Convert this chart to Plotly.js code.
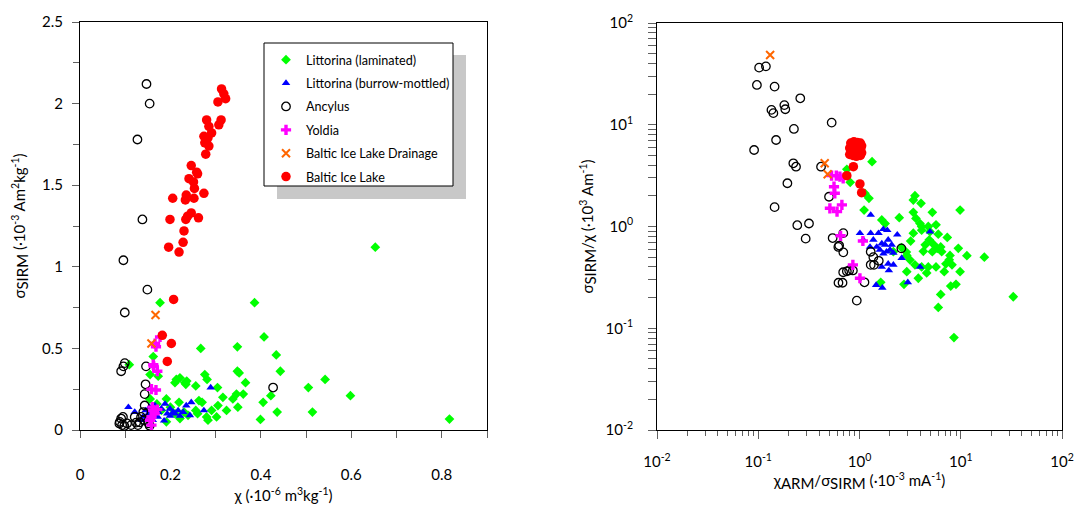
<!DOCTYPE html>
<html>
<head>
<meta charset="utf-8">
<script src="https://cdn.plot.ly/plotly-3.0.1.min.js"></script>
<style>html,body{margin:0;padding:0;background:#fff;}#chart{width:1077px;height:509px;}</style>
</head>
<body>
<div id="chart"></div>
<script>
// ---------- Left panel: chi vs sigma SIRM ----------
const lamChi  = [0.407,0.348,0.267,0.434,0.162,0.109,0.443,0.348,0.352,0.276,0.155,0.173,0.281,0.213,0.221,0.210,0.232,0.236,0.234,0.256,0.366,0.304,0.542,0.505,0.598,0.346,0.361,0.316,0.338,0.422,0.405,0.263,0.270,0.219,0.191,0.155,0.305,0.324,0.349,0.291,0.280,0.283,0.302,0.256,0.239,0.221,0.191,0.436,0.399,0.514,0.817,0.653,0.386,0.177,0.154,0.170,0.200,0.210,0.180,0.260,0.230];
const lamSirm = [0.57,0.51,0.50,0.46,0.45,0.40,0.36,0.36,0.35,0.34,0.34,0.33,0.31,0.31,0.32,0.29,0.29,0.30,0.28,0.27,0.29,0.26,0.31,0.26,0.21,0.22,0.22,0.20,0.19,0.21,0.17,0.18,0.17,0.17,0.19,0.19,0.15,0.12,0.14,0.12,0.08,0.06,0.08,0.12,0.09,0.07,0.05,0.11,0.065,0.11,0.067,1.12,0.78,0.78,0.19,0.16,0.14,0.10,0.12,0.10,0.11];

const burChi  = [0.107,0.121,0.136,0.151,0.166,0.173,0.188,0.199,0.206,0.186,0.199,0.217,0.221,0.235,0.246,0.243,0.274,0.289,0.139,0.161,0.172,0.154,0.193,0.210,0.180,0.145,0.160,0.228];
const burSirm = [0.14,0.11,0.06,0.10,0.15,0.11,0.16,0.13,0.11,0.057,0.086,0.12,0.086,0.15,0.17,0.09,0.12,0.26,0.08,0.06,0.08,0.14,0.10,0.10,0.13,0.12,0.12,0.11];

const ancChi  = [0.147,0.154,0.127,0.138,0.096,0.149,0.099,0.099,0.096,0.091,0.146,0.145,0.143,0.143,0.140,0.427,0.095,0.091,0.088,0.087,0.093,0.104,0.121,0.124,0.132,0.135,0.152,0.154,0.128,0.113,0.098,0.142];
const ancSirm = [2.12,2.00,1.78,1.29,1.04,0.86,0.72,0.41,0.39,0.36,0.39,0.28,0.22,0.15,0.11,0.26,0.08,0.07,0.05,0.04,0.03,0.04,0.08,0.045,0.047,0.08,0.04,0.026,0.03,0.03,0.025,0.06];

const yolChi  = [0.177,0.166,0.168,0.162,0.171,0.158,0.168,0.162,0.171,0.158,0.155,0.158,0.163,0.165,0.160];
const yolSirm = [0.57,0.53,0.51,0.40,0.36,0.25,0.245,0.12,0.125,0.08,0.06,0.03,0.39,0.10,0.14];

const drnChi  = [0.167,0.158];
const drnSirm = [0.705,0.53];

const bilChi  = [0.313,0.318,0.322,0.305,0.280,0.312,0.307,0.285,0.291,0.274,0.283,0.276,0.285,0.278,0.246,0.258,0.260,0.241,0.251,0.253,0.274,0.235,0.205,0.233,0.252,0.246,0.238,0.262,0.199,0.234,0.230,0.228,0.196,0.219,0.207,0.182,0.202,0.193];
const bilSirm = [2.09,2.06,2.03,2.01,1.90,1.90,1.87,1.86,1.82,1.80,1.79,1.76,1.74,1.69,1.62,1.58,1.57,1.54,1.52,1.48,1.45,1.44,1.42,1.41,1.42,1.33,1.31,1.30,1.29,1.29,1.22,1.15,1.12,1.09,0.80,0.58,0.53,0.42];

// ---------- Right panel: chiARM/sigmaSIRM vs sigmaSIRM/chi ----------
const lamArm   = [1.33,0.75,0.81,1.13,1.24,1.11,3.53,3.40,4.05,5.24,9.85,3.40,1.66,1.79,2.47,3.61,3.96,4.11,4.78,5.70,3.40,4.11,4.97,6.00,7.36,4.89,4.46,5.36,5.86,6.34,9.46,4.27,5.24,6.48,7.83,11.5,17.1,2.16,2.93,3.15,3.53,4.11,4.78,5.70,7.14,7.70,8.20,2.93,3.81,4.61,6.87,9.85,2.75,1.62,7.96,8.97,6.34,6.00,8.57,33.0,2.90,2.60,3.20];
const lamRatio = [4.33,3.65,2.72,2.12,1.89,1.45,2.01,1.82,1.69,1.38,1.45,1.38,1.16,1.07,1.22,1.20,1.07,1.00,1.00,1.04,0.86,0.92,0.89,0.84,0.78,0.74,0.66,0.67,0.61,0.63,0.61,0.57,0.565,0.565,0.52,0.516,0.50,0.565,0.52,0.47,0.42,0.40,0.40,0.40,0.43,0.47,0.42,0.36,0.31,0.35,0.36,0.36,0.27,0.283,0.26,0.27,0.215,0.16,0.081,0.204,0.56,0.62,0.72];

const burArm   = [1.29,1.01,1.09,1.29,1.54,1.72,1.88,2.36,1.37,1.92,1.27,1.48,1.66,2.08,1.59,1.85,2.00,2.16,4.97,2.61,1.92,2.16,1.66,1.95,3.96,1.46,1.68,3.00,1.79,1.72];
const burRatio = [1.30,0.86,0.74,0.86,0.86,0.94,0.92,0.83,0.74,0.74,0.63,0.63,0.68,0.66,0.59,0.565,0.59,0.55,0.89,0.49,0.43,0.42,0.40,0.37,0.40,0.266,0.25,0.283,0.66,0.54];

const ancArm   = [0.102,0.119,0.097,0.145,0.26,0.181,0.185,0.135,0.141,0.531,0.225,0.15,0.091,0.222,0.236,0.417,0.194,0.50,0.145,0.243,0.317,0.294,0.543,0.692,0.618,0.63,0.692,1.29,1.37,1.55,1.29,1.39,2.59,0.69,0.75,0.79,0.86,0.62,0.68,1.12,0.94];
const ancRatio = [36.4,37.5,24.6,23.7,18.2,15.6,14.2,14.0,13.0,10.5,9.1,7.08,5.65,4.18,3.87,3.87,2.66,1.96,1.55,1.03,1.07,0.76,0.77,0.86,0.63,0.65,0.557,0.565,0.50,0.46,0.42,0.42,0.61,0.355,0.363,0.37,0.37,0.28,0.28,0.283,0.187];

const yolArm   = [0.53,0.59,0.64,0.69,0.56,0.57,0.51,0.60,0.67,0.65,1.08,0.86,1.01];
const yolRatio = [3.16,3.16,3.09,2.97,2.46,2.12,1.51,1.40,1.63,0.81,0.72,0.42,0.31];

const drnArm   = [0.131,0.453,0.485];
const drnRatio = [48.5,4.18,3.26];

const bilArm   = [0.82,0.88,0.95,1.02,1.05,0.85,0.92,0.98,1.03,0.80,0.87,0.94,1.00,1.05,0.83,0.90,0.97,0.86,0.93,1.02,0.80,0.88,0.96,0.91,0.99,0.84,0.87,0.75,1.01,1.05];
const bilRatio = [6.6,6.8,6.7,6.6,6.2,6.2,6.3,6.1,5.8,5.9,5.8,5.7,5.5,5.3,5.4,5.3,5.1,5.0,4.9,5.0,5.1,6.0,6.0,5.5,6.4,5.6,3.87,3.16,2.62,2.15];

const seriesNames = ['Littorina (laminated)','Littorina (burrow-mottled)','Ancylus','Yoldia','Baltic Ice Lake Drainage','Baltic Ice Lake'];
const xTickVals = [0,0.2,0.4,0.6,0.8];
const logTickVals = [0.01,0.1,1,10,100];
const logTickText = ['10<sup>-2</sup>','10<sup>-1</sup>','10<sup>0</sup>','10<sup>1</sup>','10<sup>2</sup>'];

const styles = [
  {symbol:'diamond', color:'#00ff00', size:7.5, line:{width:0}},
  {symbol:'triangle-up', color:'#0000ff', size:7.5, line:{width:0}},
  {symbol:'circle-open', color:'#000000', size:8.5, line:{width:1.3, color:'#000'}},
  {symbol:'cross', color:'#ff00ff', size:8.5, line:{width:0}},
  {symbol:'x-thin-open', color:'#ff6600', size:8, line:{width:2, color:'#ff6600'}},
  {symbol:'circle', color:'#ff0000', size:9.5, line:{width:0}}
];
const leftData  = [[lamChi,lamSirm],[burChi,burSirm],[ancChi,ancSirm],[yolChi,yolSirm],[drnChi,drnSirm],[bilChi,bilSirm]];
const rightData = [[lamArm,lamRatio],[burArm,burRatio],[ancArm,ancRatio],[yolArm,yolRatio],[drnArm,drnRatio],[bilArm,bilRatio]];

const traces = [];
leftData.forEach((d,i)=>{
  traces.push({type:'scatter', mode:'markers', x:d[0], y:d[1], xaxis:'x', yaxis:'y',
    name:seriesNames[i], legendgroup:'g'+i, showlegend:true, marker:styles[i], cliponaxis:false});
});
rightData.forEach((d,i)=>{
  traces.push({type:'scatter', mode:'markers', x:d[0], y:d[1], xaxis:'x2', yaxis:'y2',
    name:seriesNames[i], legendgroup:'g'+i, showlegend:false, marker:styles[i]});
});

const W = 1077, H = 509;
const fx = p => p / W, fy = p => 1 - p / H;
const tickGray = '#606060';

const layout = {
  width: W, height: H,
  margin: {l:0, r:0, t:0, b:0},
  paper_bgcolor: '#ffffff', plot_bgcolor: '#ffffff',
  font: {family: 'Lato, "Open Sans", sans-serif', size: 15, color: '#000'},
  showlegend: true,
  legend: {x: fx(266), y: fy(45), xanchor: 'left', yanchor: 'top', bgcolor: 'rgba(0,0,0,0)',
           borderwidth: 0, font: {size: 12.6, family: 'Lato, sans-serif', color:'#000'}, tracegroupgap: 4,
           traceorder: 'grouped'},
  xaxis: {domain: [fx(80), fx(487)], range: [0, 0.9], tickvals: xTickVals, anchor: 'y',
          ticks: 'outside', ticklen: 7, tickcolor: tickGray, tickwidth: 1,
          showline: true, linecolor: '#000', linewidth: 1, mirror: true,
          showgrid: false, zeroline: false, ticklabelstandoff: 24,
          minor: {dtick: 0.1, tick0: 0, ticks: 'outside', ticklen: 7, tickcolor: tickGray, showgrid: false},
          title: {text: 'χ (·10<sup>-6</sup> m<sup>3</sup>kg<sup>-1</sup>)', standoff: 8, font: {size: 15}}},
  yaxis: {domain: [fy(430), fy(22)], range: [0, 2.5], dtick: 0.5, tick0: 0, anchor: 'x',
          ticks: 'outside', ticklen: 7, tickcolor: tickGray, tickwidth: 1,
          showline: true, linecolor: '#000', linewidth: 1, mirror: true,
          showgrid: false, zeroline: false, ticklabelstandoff: 6,
          minor: {dtick: 0.25, tick0: 0, ticks: 'outside', ticklen: 6, tickcolor: tickGray, showgrid: false},
          title: {text: 'σ<sub><span style="font-size:15px">SIRM</span></sub> (·10<sup>-3</sup> Am<sup>2</sup>kg<sup>-1</sup>)', standoff: 12, font: {size: 15}}},
  xaxis2: {type: 'log', domain: [fx(657), fx(1062)], range: [-2, 2], anchor: 'y2',
           tickvals: logTickVals, ticktext: logTickText,
           ticks: 'outside', ticklen: 8, tickcolor: tickGray, tickwidth: 1,
           showline: true, linecolor: '#000', linewidth: 1, mirror: true,
           showgrid: false, zeroline: false, ticklabelstandoff: 10,
           minor: {dtick: 'D1', ticks: 'outside', ticklen: 5, tickcolor: tickGray, showgrid: false},
           title: {text: 'χ<sub><span style="font-size:15px">ARM</span></sub>/σ<sub><span style="font-size:15px">SIRM</span></sub> (·10<sup>-3</sup> mA<sup>-1</sup>)', standoff: 5, font: {size: 15}}},
  yaxis2: {type: 'log', domain: [fy(430), fy(23)], range: [-2, 2], anchor: 'x2',
           tickvals: logTickVals, ticktext: logTickText,
           ticks: 'outside', ticklen: 8, tickcolor: tickGray, tickwidth: 1,
           showline: true, linecolor: '#000', linewidth: 1, mirror: true,
           showgrid: false, zeroline: false, ticklabelstandoff: 12,
           minor: {dtick: 'D1', ticks: 'outside', ticklen: 8, tickcolor: tickGray, showgrid: false},
           title: {text: 'σ<sub><span style="font-size:15px">SIRM</span></sub>/χ (·10<sup>3</sup> Am<sup>-1</sup>)', standoff: 8, font: {size: 15}}},
  shapes: [
    {type: 'rect', xref: 'paper', yref: 'paper', x0: fx(277), x1: fx(466), y0: fy(199), y1: fy(55),
     fillcolor: '#c8c8c8', line: {width: 0}, layer: 'above'},
    {type: 'rect', xref: 'paper', yref: 'paper', x0: fx(264), x1: fx(453), y0: fy(186), y1: fy(43),
     fillcolor: '#ffffff', line: {width: 1, color: '#000'}, layer: 'above'}
  ]
};

Plotly.newPlot('chart', traces, layout, {displayModeBar: false, staticPlot: true});
</script>
</body>
</html>
